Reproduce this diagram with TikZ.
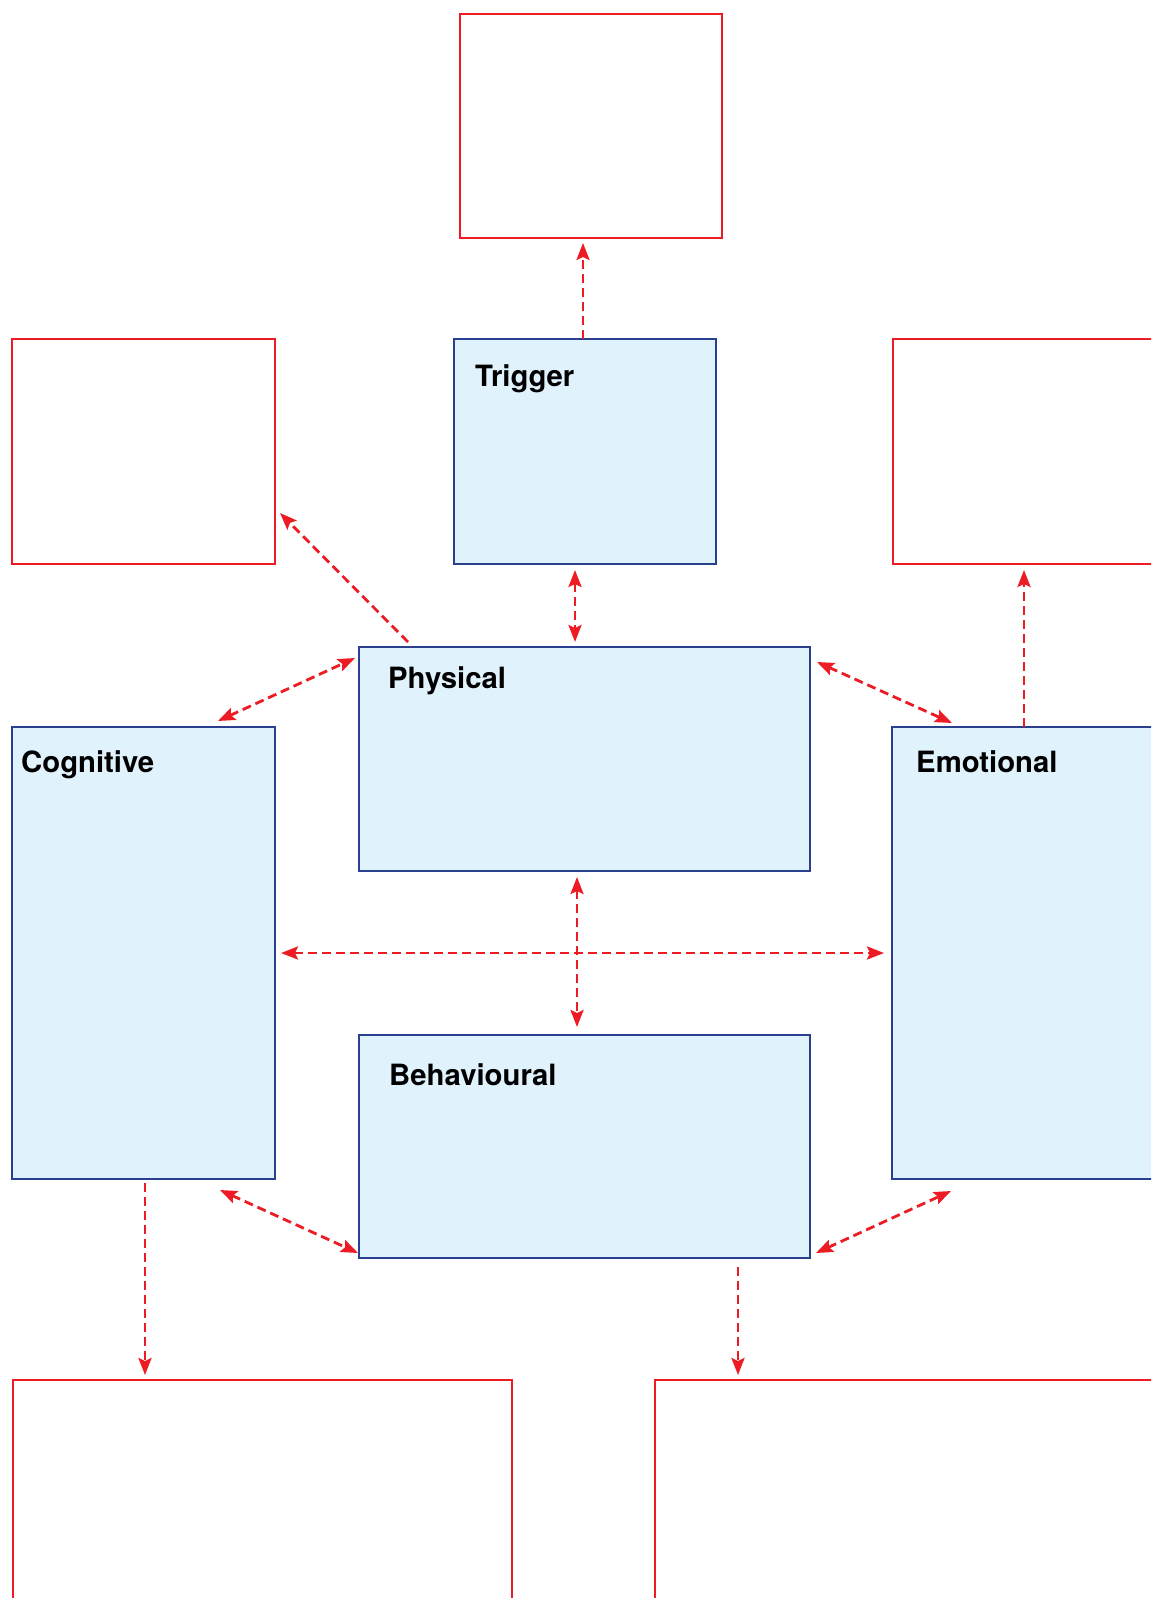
\documentclass[tikz,border=0pt]{standalone}
\usepackage{fontspec}
\setmainfont{TeX Gyre Heros}
\usetikzlibrary{arrows.meta}
\definecolor{rd}{HTML}{ED1C24}
\definecolor{bl}{HTML}{2B3F8F}
\definecolor{fl}{HTML}{E0F2FC}
\tikzset{
  redbox/.style={draw=rd, line width=2.8pt, fill=white, rectangle, inner sep=0pt, outer sep=0pt, anchor=north west},
  bluebox/.style={draw=bl, line width=2.8pt, fill=fl, rectangle, inner sep=0pt, outer sep=0pt, anchor=north west},
  lbl/.style={anchor=base west, inner sep=0pt, font=\bfseries\fontsize{29.3}{31}\selectfont},
  tipp/.tip={Stealth[length=17pt, width=13pt, inset=3pt]},
  conn/.style={draw=rd, line width=2.8pt, dash pattern=on 9pt off 5pt},
  one/.style={conn, -tipp},
  two/.style={conn, tipp-tipp}
}
\begin{document}
\begin{tikzpicture}[x=1pt, y=-1pt]
\useasboundingbox (0,0) rectangle (1151,1598);
\clip (0,0) rectangle (1151,1598);
% red boxes
\node[redbox, minimum width=262pt, minimum height=224pt] (topbox) at (460,14) {};
\node[redbox, minimum width=263pt, minimum height=225pt] (leftred) at (12,339) {};
\node[redbox, minimum width=280pt, minimum height=225pt] (rightred) at (893,339) {};
\node[redbox, minimum width=499pt, minimum height=240pt] (botleft) at (13,1380) {};
\node[redbox, minimum width=520pt, minimum height=240pt] (botright) at (655,1380) {};
% blue boxes
\node[bluebox, minimum width=262pt, minimum height=225pt] (trigger) at (454,339) {};
\node[bluebox, minimum width=263pt, minimum height=452pt] (cog) at (12,727) {};
\node[bluebox, minimum width=451pt, minimum height=224pt] (phys) at (359,647) {};
\node[bluebox, minimum width=280pt, minimum height=452pt] (emo) at (892,727) {};
\node[bluebox, minimum width=451pt, minimum height=223pt] (behav) at (359,1035) {};
% labels
\node[lbl] (tl) at (475,386) {Trigger};
\node[lbl] (pl) at (388,688) {Physical};
\node[lbl] (cl) at (21,772) {Cognitive};
\node[lbl] (el) at (916,772) {Emotional};
\node[lbl] (bl) at (389,1085) {Behavioural};
% connector end points
\coordinate (a1) at (583,339); \coordinate (a2) at (583,243);
\coordinate (b1) at (575,570); \coordinate (b2) at (575,642);
\coordinate (c1) at (408,642); \coordinate (c2) at (280,513);
\coordinate (d1) at (218,721); \coordinate (d2) at (355,658);
\coordinate (e1) at (817,662); \coordinate (e2) at (952,723);
\coordinate (f1) at (1024,727); \coordinate (f2) at (1024,570);
\coordinate (g1) at (281,953); \coordinate (g2) at (884,953);
\coordinate (h1) at (577,877); \coordinate (h2) at (577,1027);
\coordinate (i1) at (220,1190); \coordinate (i2) at (358,1253);
\coordinate (j1) at (816,1253); \coordinate (j2) at (951,1191);
\coordinate (k1) at (145,1183); \coordinate (k2) at (145,1375);
\coordinate (l1) at (738,1267); \coordinate (l2) at (738,1375);
% connectors
\draw[one] (a1) -- (a2);
\draw[two] (b1) -- (b2);
\draw[one] (c1) -- (c2);
\draw[two] (d1) -- (d2);
\draw[two] (e1) -- (e2);
\draw[one] (f1) -- (f2);
\draw[two] (g1) -- (g2);
\draw[two] (h1) -- (h2);
\draw[two] (i1) -- (i2);
\draw[two] (j1) -- (j2);
\draw[one] (k1) -- (k2);
\draw[one] (l1) -- (l2);
\end{tikzpicture}
\end{document}
